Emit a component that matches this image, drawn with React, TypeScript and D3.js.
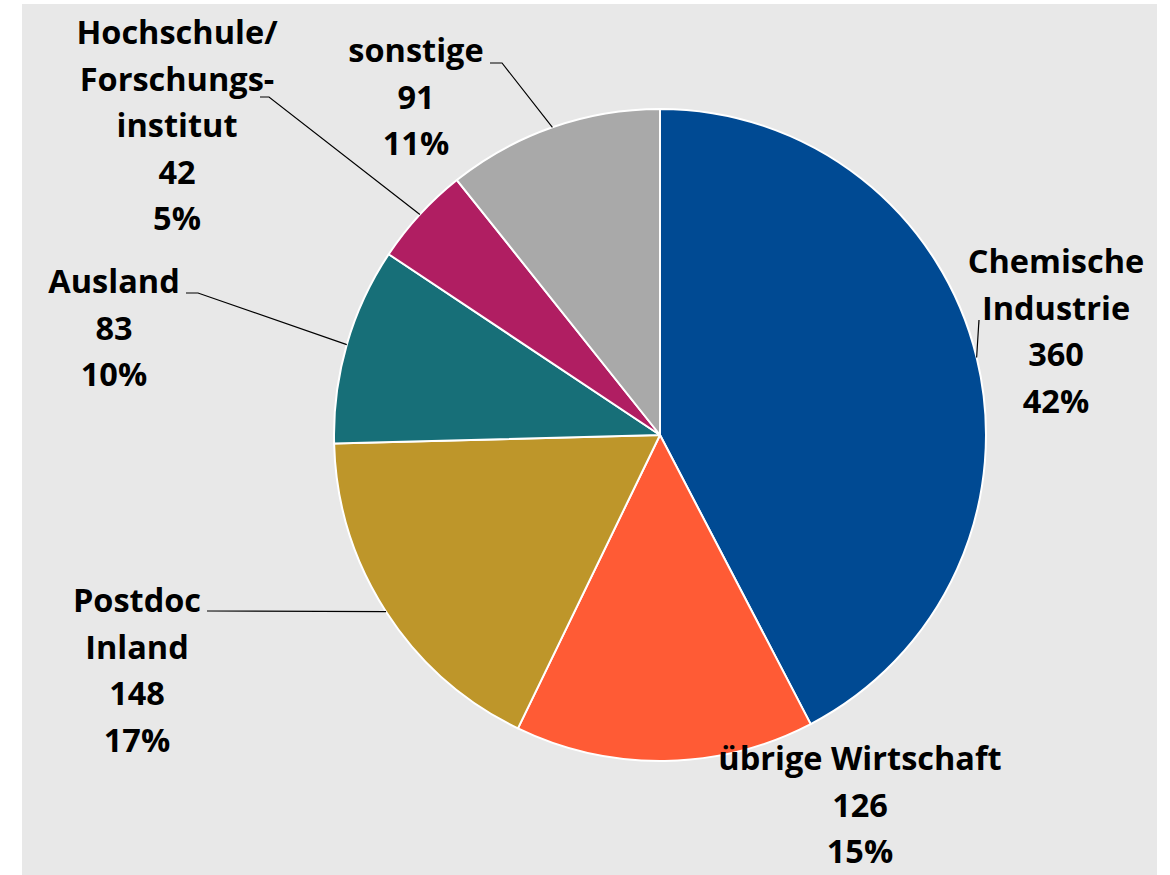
import React from "react";
import * as d3 from "d3";

const categories = ["Chemische Industrie", "übrige Wirtschaft", "Postdoc Inland", "Ausland", "Hochschule/ Forschungsinstitut", "sonstige"];
const values = [360, 126, 148, 83, 42, 91];
const percentLabels = ["42%", "15%", "17%", "10%", "5%", "11%"];
const labelLines = [
  ["Chemische", "Industrie"],
  ["übrige Wirtschaft"],
  ["Postdoc", "Inland"],
  ["Ausland"],
  ["Hochschule/", "Forschungs-", "institut"],
  ["sonstige"],
];
const colors = ["#004a93", "#ff5b35", "#be962a", "#176f78", "#b01e62", "#a9a9a9"];

// label layout: center x, first baseline, leader anchor points (null = no leader)
const labelLayout = [
  { x: 1056, y: 273, leader: [[979, 320]] },
  { x: 860, y: 770, leader: null },
  { x: 137, y: 612, leader: [[207, 611]] },
  { x: 114, y: 293, leader: [[186, 293], [198, 293]] },
  { x: 177, y: 44, leader: [[260, 97], [269, 97]] },
  { x: 416, y: 62, leader: [[490, 63], [502, 63]] },
];

const W = 1170, H = 875;
const cx = 660, cy = 435, R = 326;
const lineH = 46.5;
const FONT = "'Open Sans', 'Noto Sans', sans-serif";

export default function App() {
  const pie = d3.pie<number>().sort(null).value((d) => d);
  const arcs = pie(values);
  const arc = d3.arc<d3.PieArcDatum<number>>().innerRadius(0).outerRadius(R);

  return (
    <svg width={W} height={H} style={{ position: "absolute", left: 0, top: 0, display: "block" }}>
      <rect x={0} y={0} width={W} height={H} fill="#ffffff" />
      <rect x={22} y={4} width={1135} height={871} fill="#e8e8e8" />
      <g transform={`translate(${cx},${cy})`}>
        {arcs.map((a, i) => (
          <path key={i} d={arc(a) || ""} fill={colors[i]} stroke="#ffffff" strokeWidth={2} strokeLinejoin="round" />
        ))}
      </g>
      {arcs.map((a, i) => {
        const lay = labelLayout[i];
        if (!lay.leader) return null;
        const mid = (a.startAngle + a.endAngle) / 2;
        const px = cx + R * Math.sin(mid);
        const py = cy - R * Math.cos(mid);
        const pts = [...lay.leader, [px, py]];
        return (
          <polyline key={"l" + i} points={pts.map((p) => p.join(",")).join(" ")} fill="none" stroke="#000" strokeWidth={1.2} />
        );
      })}
      {labelLayout.map((lay, i) => {
        const lines = [...labelLines[i], String(values[i]), percentLabels[i]];
        return (
          <text key={"t" + i} x={lay.x} y={lay.y} textAnchor="middle" fontFamily={FONT} fontWeight={700} fontSize={32.5} fill="#000">
            {lines.map((ln, j) => (
              <tspan key={j} x={lay.x} y={lay.y + j * lineH}>{ln}</tspan>
            ))}
          </text>
        );
      })}
    </svg>
  );
}
